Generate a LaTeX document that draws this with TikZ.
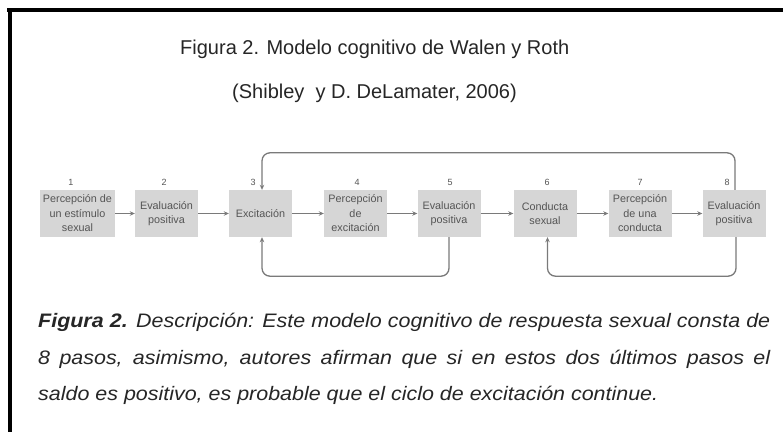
\documentclass[tikz,border=0pt]{standalone}
\usepackage{fontspec}
\setmainfont{Liberation Sans}
\usetikzlibrary{arrows.meta}
\definecolor{boxgray}{HTML}{D6D6D6}
\definecolor{linegray}{HTML}{7A7A7A}
\definecolor{txtgray}{HTML}{555555}
\definecolor{titlegray}{HTML}{262626}
\begin{document}
\begin{tikzpicture}[x=1pt,y=-1pt,
  stepbox/.style={fill=boxgray, minimum height=47pt, minimum width=63pt, inner sep=0pt, align=center, font=\fontsize{10.8}{14.5}\selectfont, text=txtgray},
  num/.style={font=\fontsize{9}{10}\selectfont, text=txtgray, inner sep=0pt},
  conn/.style={draw=linegray, line width=1.3pt, -{Stealth[length=5pt,width=4.5pt]}},
  loopline/.style={conn, rounded corners=8pt},
  titletext/.style={font=\fontsize{20}{24}\selectfont, text=titlegray, anchor=base west, inner sep=0pt},
  captext/.style={font=\fontsize{19.5}{24}\selectfont\itshape, text=titlegray, anchor=base west, inner sep=0pt}]
\useasboundingbox (0,0) rectangle (783,432);
\fill[white] (0,0) rectangle (783,432);
\fill[black] (7,7.5) rectangle (783,11.5);
\fill[black] (8.3,7.5) rectangle (12.3,432);

% title
\node[titletext] (t1) at (180,54) {Figura 2. Modelo cognitivo de Walen y Roth};
\node[titletext] (t2) at (232,98) {(Shibley\ \ y D. DeLamater, 2006)};

% boxes
\node[stepbox, minimum width=75pt] (b1) at (77.5,213.5) {Percepción de\\un estímulo\\sexual};
\node[stepbox] (b2) at (166.5,213.5) {Evaluación\\positiva};
\node[stepbox] (b3) at (260.5,213.5) {Excitación};
\node[stepbox] (b4) at (355.5,213.5) {Percepción\\de\\excitación};
\node[stepbox] (b5) at (449,213.5) {Evaluación\\positiva};
\node[stepbox] (b6) at (545,213.5) {Conducta\\sexual};
\node[stepbox] (b7) at (640,213.5) {Percepción\\de una\\conducta};
\node[stepbox] (b8) at (734,213.5) {Evaluación\\positiva};

% numbers
\node[num] (n1) at (71,182) {1};
\node[num] (n2) at (164,182) {2};
\node[num] (n3) at (253,182) {3};
\node[num] (n4) at (357,182) {4};
\node[num] (n5) at (450,182) {5};
\node[num] (n6) at (547,182) {6};
\node[num] (n7) at (640,182) {7};
\node[num] (n8) at (727,182) {8};

% forward arrows
\draw[conn] (b1) -- (b2);
\draw[conn] (b2) -- (b3);
\draw[conn] (b3) -- (b4);
\draw[conn] (b4) -- (b5);
\draw[conn] (b5) -- (b6);
\draw[conn] (b6) -- (b7);
\draw[conn] (b7) -- (b8);

% loops
\draw[loopline] ([xshift=1pt]b8.north) -- ++(0,-37) -| ([xshift=1.5pt]b3.north);
\draw[loopline] (b5.south) -- ++(0,39) -| ([xshift=1.5pt]b3.south);
\draw[loopline] ([xshift=2pt]b8.south) -- ++(0,39) -| ([xshift=2.5pt]b6.south);

% caption
\node[captext] (c1) at (38,327.5) {\scalebox{1.1}[1]{\makebox[665.5pt][s]{\textbf{Figura 2.} Descripción: Este modelo cognitivo de respuesta sexual consta de}}};
\node[captext] (c2) at (38,364) {\scalebox{1.1}[1]{\makebox[665.5pt][s]{8 pasos, asimismo, autores afirman que si en estos dos últimos pasos el}}};
\node[captext] (c3) at (38,400.5) {\scalebox{1.1}[1]{saldo es positivo, es probable que el ciclo de excitación continue.}};
\end{tikzpicture}
\end{document}
